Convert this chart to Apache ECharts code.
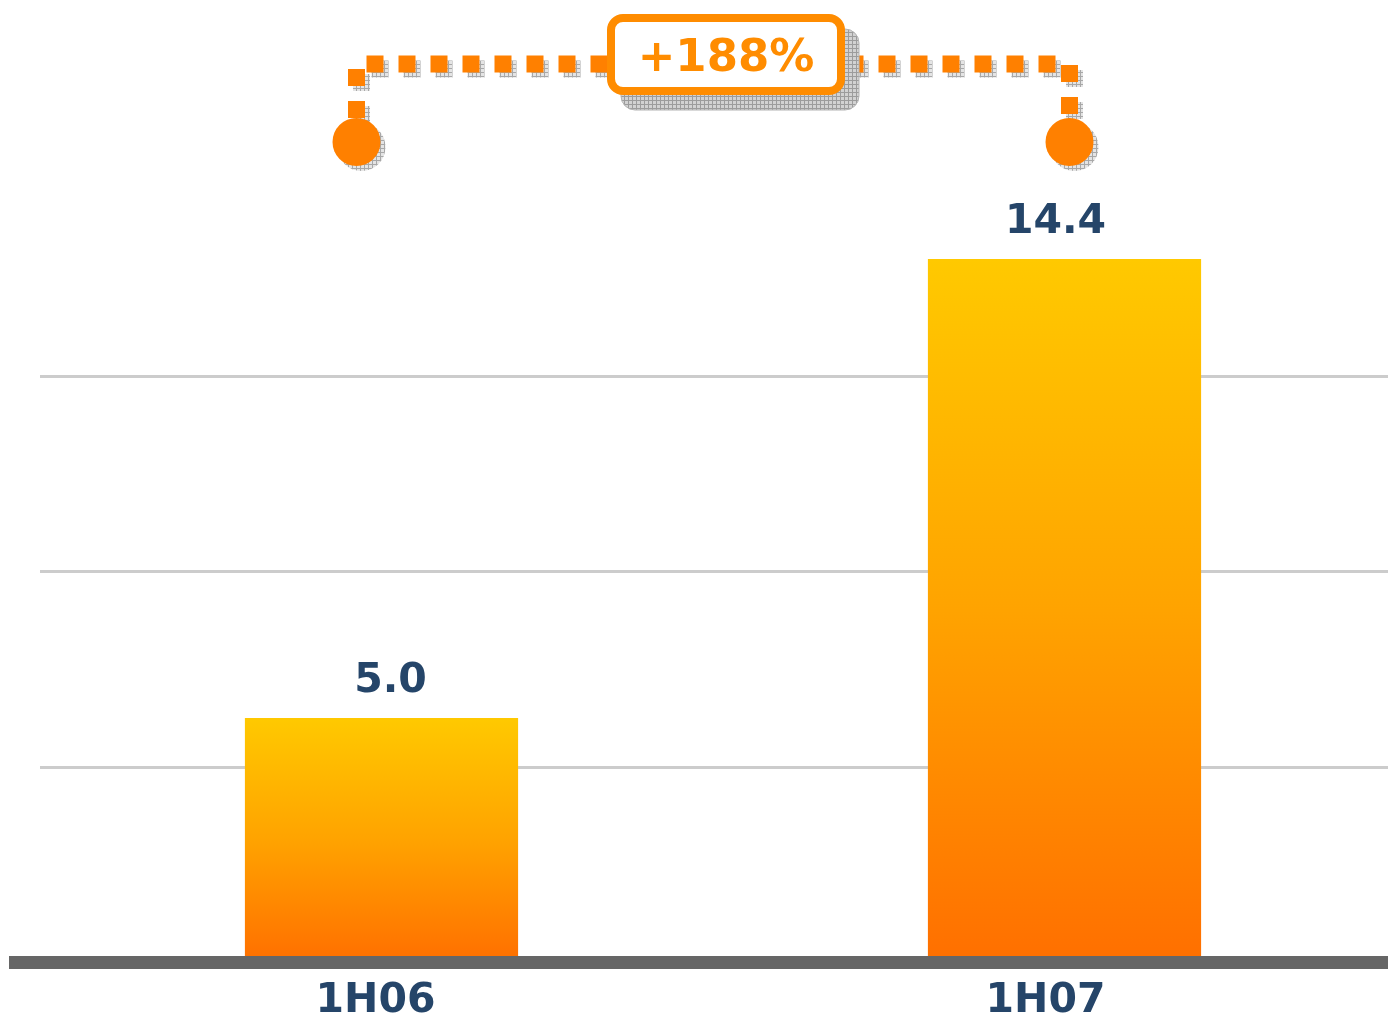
<!DOCTYPE html>
<html>
<head>
<meta charset="utf-8">
<title>1H06 vs 1H07</title>
<script src="https://cdn.jsdelivr.net/npm/echarts@6.0.0/dist/echarts.min.js"></script>
<style>
  html, body { margin: 0; padding: 0; background: #fff; }
  #main { width: 1388px; height: 1016px; }
</style>
</head>
<body>
<div id="main"></div>
<script>
// data
var periods = ['1H06', '1H07'];
var values = [5.0, 14.4];
var yTicks = [0, 4, 8, 12, 16];

var navy = '#254569';
var orange = '#FF8000';
var font = '"DejaVu Sans", Verdana, sans-serif';

var chart = echarts.init(document.getElementById('main'));

// growth between the two halves
var growth = Math.round((values[1] / values[0] - 1) * 100);

// grey checked pattern used for the shadows
function makePattern(bg, line) {
  var c = document.createElement('canvas');
  c.width = 4;
  c.height = 4;
  var ctx = c.getContext('2d');
  ctx.fillStyle = bg;
  ctx.fillRect(0, 0, 4, 4);
  ctx.fillStyle = line;
  ctx.fillRect(0, 0, 4, 1);
  ctx.fillRect(0, 0, 1, 4);
  return c;
}
var boxPattern = {image: makePattern('#d2d2d2', '#9c9c9c'), repeat: 'repeat'};
var dotPattern = {image: makePattern('#e4e4e4', '#a8a8a8'), repeat: 'repeat'};

var option = {
  backgroundColor: '#fff',
  animation: false,
  grid: [
    {left: 40, width: 1366, top: 181, bottom: 54, outerBoundsMode: 'none'},
    //只用来画底部粗线
    {left: 9, right: 0, top: 181, bottom: 54, outerBoundsMode: 'none'}
  ],
  xAxis: [
    {
      type: 'category',
      gridIndex: 0,
      data: periods,
      axisLine: {show: false},
      axisTick: {show: false},
      axisLabel: {
        margin: 19,
        formatter: function (value, index) {
          return '{c' + index + '|' + value + '}';
        },
        rich: {
          c0: {color: navy, fontSize: 41, fontWeight: 'bold', fontFamily: font, padding: [0, 12, 0, 0]},
          c1: {color: navy, fontSize: 41, fontWeight: 'bold', fontFamily: font, padding: [0, 38, 0, 0]}
        }
      }
    },
    {
      type: 'category',
      gridIndex: 1,
      data: periods,
      z: 10,
      axisLine: {show: true, lineStyle: {color: '#666666', width: 13, cap: 'butt'}},
      axisTick: {show: false},
      axisLabel: {show: false}
    }
  ],
  yAxis: [
    {
      type: 'value',
      gridIndex: 0,
      min: yTicks[0],
      max: yTicks[yTicks.length - 1],
      interval: yTicks[1] - yTicks[0],
      axisLine: {show: false},
      axisTick: {show: false},
      axisLabel: {show: false},
      splitLine: {
        show: true,
        showMinLine: false,
        showMaxLine: false,
        lineStyle: {color: '#cccccc', width: 3}
      }
    },
    {
      type: 'value',
      gridIndex: 1,
      min: yTicks[0],
      max: yTicks[yTicks.length - 1],
      show: false
    }
  ],
  series: [
    {
      type: 'bar',
      xAxisIndex: 0,
      yAxisIndex: 0,
      barWidth: '40%',
      itemStyle: {
        color: new echarts.graphic.LinearGradient(0, 0, 0, 1, [
          {offset: 0, color: '#FFC900'},
          {offset: 0.5, color: '#FFA300'},
          {offset: 1, color: '#FF6F00'}
        ])
      },
      label: {
        show: true,
        position: 'top',
        distance: 16,
        color: navy,
        fontSize: 41,
        fontWeight: 'bold',
        fontFamily: font,
        formatter: function (p) {
          return p.value.toFixed(1);
        }
      },
      data: values.map(function (v, i) {
        return {value: v, label: {offset: [i === 0 ? 9 : -9, 0]}};
      })
    }
  ]
};

chart.setOption(option);

// 顶部的增长标注
var x0 = chart.convertToPixel({xAxisIndex: 0}, periods[0]) - 25;
var x1 = chart.convertToPixel({xAxisIndex: 0}, periods[1]) + 5;
var lineY = 64;
var dotY = 142;
var boxW = 238, boxH = 81;
var boxX = (x0 + x1) / 2 + 13 - boxW / 2;
var boxY = 14;
var pts = [[x0, dotY - 24], [x0, lineY], [x1, lineY], [x1, dotY - 24]];
var sh = 5;

function shifted(points) {
  return points.map(function (p) { return [p[0] + sh, p[1] + sh]; });
}

var dashStyle = {fill: null, lineWidth: 17, lineDash: [17, 15], lineCap: 'butt'};

chart.setOption({
  graphic: [
    //阴影
    {
      type: 'polyline',
      z: 99,
      shape: {points: shifted(pts)},
      style: Object.assign({stroke: dotPattern}, dashStyle)
    },
    {
      type: 'circle',
      z: 99,
      shape: {cx: x0 + sh, cy: dotY + sh, r: 24},
      style: {fill: dotPattern}
    },
    {
      type: 'circle',
      z: 99,
      shape: {cx: x1 + sh, cy: dotY + sh, r: 24},
      style: {fill: dotPattern}
    },
    {
      type: 'polyline',
      z: 100,
      shape: {points: pts},
      style: Object.assign({stroke: orange}, dashStyle)
    },
    {
      type: 'circle',
      z: 101,
      shape: {cx: x0, cy: dotY, r: 24},
      style: {fill: orange}
    },
    {
      type: 'circle',
      z: 101,
      shape: {cx: x1, cy: dotY, r: 24},
      style: {fill: orange}
    },
    {
      type: 'rect',
      z: 102,
      shape: {x: boxX + 14, y: boxY + 15, width: boxW, height: boxH, r: 14},
      style: {fill: boxPattern, stroke: '#b4b4b4', lineWidth: 1}
    },
    {
      type: 'rect',
      z: 103,
      shape: {x: boxX + 4, y: boxY + 4, width: boxW - 8, height: boxH - 8, r: 12},
      style: {fill: '#ffffff', stroke: '#FF8C00', lineWidth: 8}
    },
    {
      type: 'text',
      z: 104,
      x: boxX + boxW / 2,
      y: boxY + boxH / 2 + 5,
      style: {
        text: '+' + growth + '%',
        fill: '#FF8C00',
        font: 'bold 45px ' + font,
        align: 'center',
        verticalAlign: 'middle'
      }
    }
  ]
});
</script>
</body>
</html>
